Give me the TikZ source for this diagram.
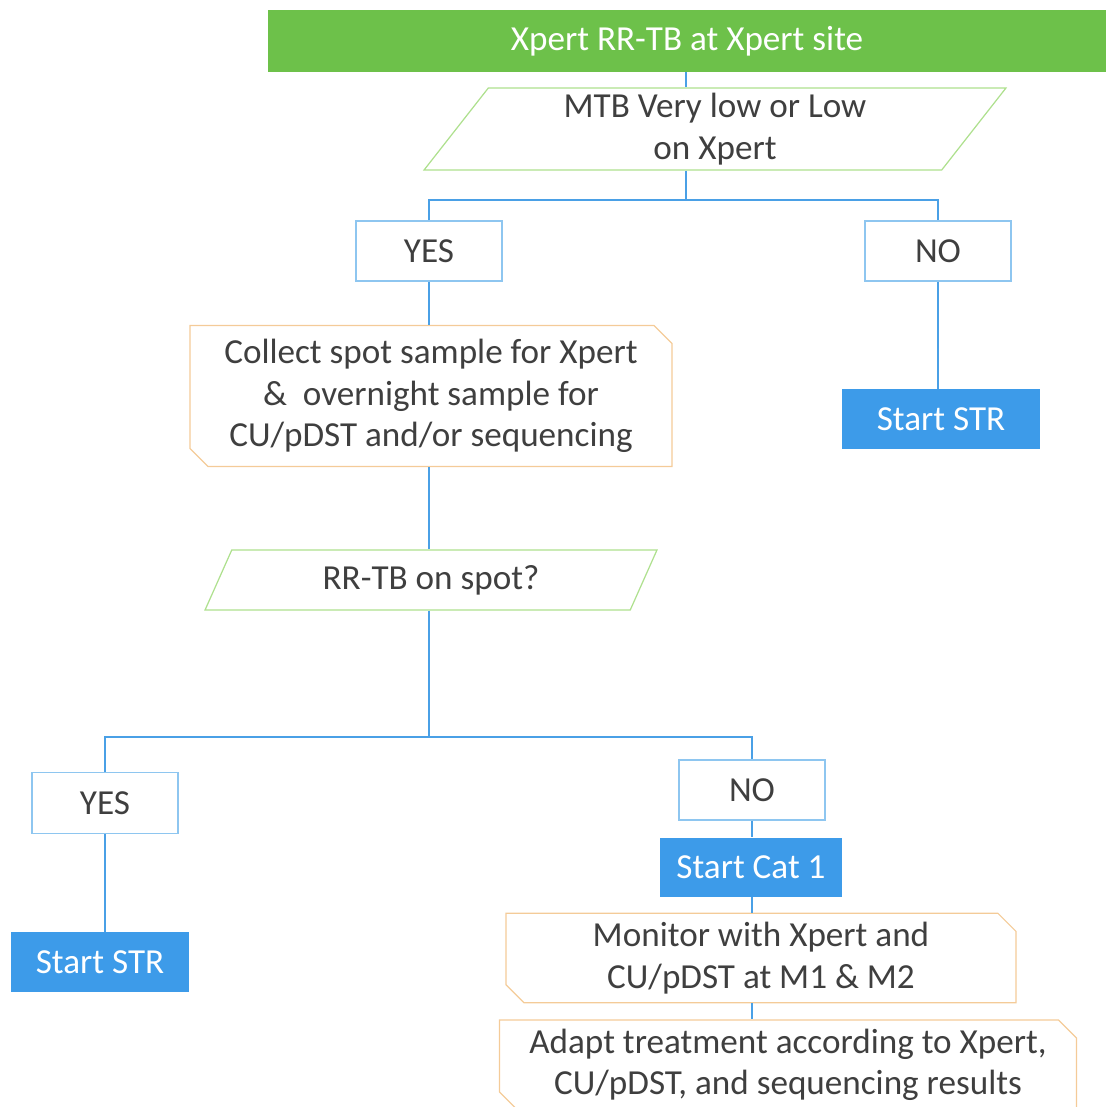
\documentclass[tikz,border=0pt]{standalone}
\usepackage{fontspec}
\setmainfont{Carlito}
\usepackage{xcolor}
\usetikzlibrary{shapes.misc, shapes.geometric}
\definecolor{topgreen}{HTML}{6DC14A}
\definecolor{startblue}{HTML}{3D9BE9}
\definecolor{lineblue}{HTML}{4AA0E6}
\definecolor{boxblue}{HTML}{8EC6F0}
\definecolor{paragreen}{HTML}{AEE08E}
\definecolor{noteorange}{HTML}{F4CB98}
\definecolor{textgray}{HTML}{3F3F3F}
\tikzstyle{txt} = [font=\fontsize{20}{23.5}\selectfont, text=textgray, align=center, inner sep=0pt]
\tikzstyle{header} = [rectangle, txt, fill=topgreen, text=white, minimum width=16.78cm, minimum height=1.24cm]
\tikzstyle{question} = [trapezium, txt, draw=paragreen, line width=0.7pt, trapezium left angle=48, trapezium right angle=132, trapezium stretches body]
\tikzstyle{answer} = [rectangle, txt, draw=boxblue, line width=0.8pt, minimum width=2.92cm, minimum height=1.2cm]
\tikzstyle{startbox} = [rectangle, txt, fill=startblue, text=white, minimum height=1.2cm]
\tikzstyle{note} = [chamfered rectangle, chamfered rectangle corners={north east, south west}, chamfered rectangle xsep=0.18cm, chamfered rectangle ysep=0.18cm, txt, draw=noteorange, line width=0.7pt]
\tikzstyle{link} = [draw=lineblue, line width=1.4pt]

\begin{document}
\begin{tikzpicture}[x=0.02cm, y=-0.02cm]
    \useasboundingbox (0,0) rectangle (1109,1106);
    \node (head) [header] at (687,41) {Xpert RR-TB at Xpert site};
    \node (mtb) [question, minimum width=11.64cm, minimum height=1.64cm] at (715,129) {MTB Very low or Low\\on Xpert};
    \node (yes1) [answer] at (429,251) {YES};
    \node (no1) [answer] at (938,251) {NO};
    \node (collect) [note, minimum width=9.64cm, minimum height=2.82cm] at (431,396) {Collect spot sample for Xpert\\\&\ \ overnight sample for\\CU/pDST and/or sequencing};
    \node (str1) [startbox, minimum width=3.98cm] at (941,419) {Start STR};
    \node (spot) [question, minimum width=9.04cm, minimum height=1.2cm] at (431,580) {RR-TB on spot?};
    \node (yes2) [answer, minimum height=1.22cm] at (105,803) {YES};
    \node (no2) [answer] at (752,790) {NO};
    \node (str2) [startbox, minimum width=3.56cm] at (100,962) {Start STR};
    \node (cat1) [startbox, minimum width=3.64cm, minimum height=1.18cm] at (751,867) {Start Cat 1};
    \node (monitor) [note, minimum width=10.2cm, minimum height=1.7cm] at (761,958) {Monitor with Xpert and\\CU/pDST at M1 \& M2};
    \node (adapt) [note, minimum width=11.54cm, minimum height=1.8cm] at (788,1065) {Adapt treatment according to Xpert,\\CU/pDST, and sequencing results};
    \coordinate (split1) at (686,200);
    \coordinate (split2) at (429,737);
    % first question
    \draw [link] (head.south -| split1) -- (mtb.north -| split1);
    \draw [link] (mtb.south -| split1) -- (split1);
    \draw [link] (yes1.north) |- (split1) -| (no1.north);
    \draw [link] (no1.south) -- (no1.south |- str1.north);
    \draw [link] (yes1.south) -- (yes1.south |- collect.north);
    % second question
    \draw [link] (collect.south -| split2) -- (spot.north -| split2);
    \draw [link] (spot.south -| split2) -- (split2);
    \draw [link] (yes2.north) |- (split2) -| (no2.north);
    \draw [link] (yes2.south) -- (yes2.south |- str2.north);
    \draw [link] (no2.south) -- (no2.south |- cat1.north);
    \draw [link] (cat1.south -| no2) -- (monitor.north -| no2);
    \draw [link] (monitor.south -| no2) -- (adapt.north -| no2);
\end{tikzpicture}
\end{document}
